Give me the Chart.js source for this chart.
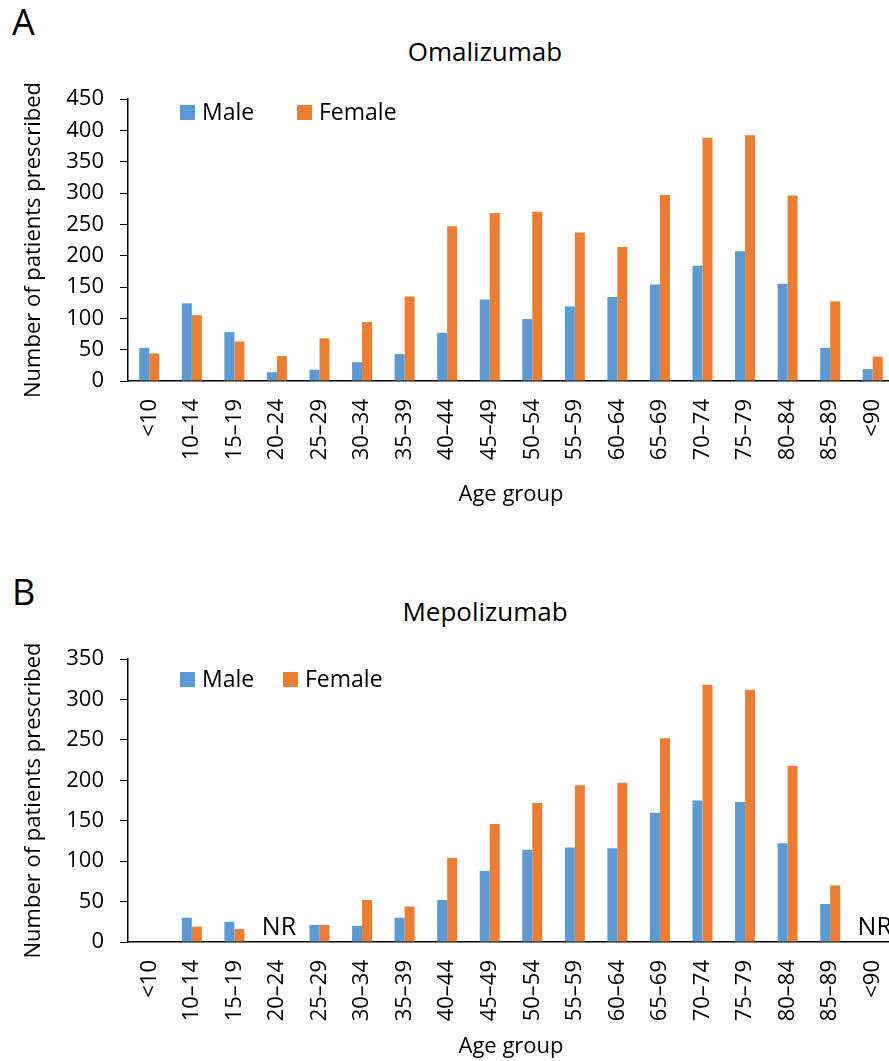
<!DOCTYPE html>
<html>
<head>
<meta charset="utf-8">
<script src="https://cdn.jsdelivr.net/npm/chart.js@4.4.1/dist/chart.umd.min.js"></script>
<style>
  html, body { margin: 0; padding: 0; background: #fff; width: 889px; height: 1061px; overflow: hidden; }
  #wrap { position: relative; width: 889px; height: 1061px; overflow: hidden; font-family: "Open Sans", sans-serif; color: #000; }
  canvas { position: absolute; left: 0; }
  .panel { position: absolute; left: 12px; font-size: 36px; line-height: 1; }
  .title { position: absolute; left: 0; width: 970px; text-align: center; font-size: 26px; line-height: 1; }
</style>
</head>
<body>
<div id="wrap">
  <div class="panel" style="top:4px">A</div>
  <div class="title" style="top:38px">Omalizumab</div>
  <canvas id="chartA" width="896" height="540" style="top:0"></canvas>

  <div class="panel" style="top:574px">B</div>
  <div class="title" style="top:598px">Mepolizumab</div>
  <canvas id="chartB" width="896" height="520" style="top:560px"></canvas>
</div>
<script>
// 데이터
const ageGroups = ['<10', '10–14', '15–19', '20–24', '25–29', '30–34', '35–39', '40–44', '45–49',
                   '50–54', '55–59', '60–64', '65–69', '70–74', '75–79', '80–84', '85–89', '<90'];
const omaMale   = [53, 124, 78, 14, 18, 30, 43, 77, 130, 99, 119, 134, 154, 184, 207, 155, 53, 19];
const omaFemale = [44, 105, 63, 40, 68, 94, 135, 247, 268, 270, 237, 214, 297, 388, 392, 296, 127, 39];
const mepoMale   = [null, 30, 25, null, 21, 20, 30, 52, 88, 114, 117, 116, 160, 175, 173, 122, 47, null];
const mepoFemale = [null, 19, 16, null, 21, 52, 44, 104, 146, 172, 194, 197, 252, 318, 312, 218, 70, null];
const mepoNR = ['20–24', '<90'];   // not reported
const omaYMax = 450;
const mepoYMax = 350;
const yStep = 50;

const BLUE = '#5B9BD5';
const ORANGE = '#ED7D31';
const FONT = '"Open Sans", sans-serif';

// 범례 (플롯 안쪽)
const boxLegend = {
    id: 'boxLegend',
    afterDraw(chart, args, opts) {
        const ctx = chart.ctx;
        ctx.save();
        ctx.font = '23px ' + FONT;
        ctx.fillStyle = '#000';
        ctx.textBaseline = 'alphabetic';
        chart.data.datasets.forEach(function(ds, i) {
            const x = opts.xs[i];
            ctx.fillStyle = ds.backgroundColor;
            ctx.fillRect(x, opts.top, 15, 15);
            ctx.fillStyle = '#000';
            ctx.fillText(ds.label, x + 22, opts.top + 15);
        });
        ctx.restore();
    }
};

// NR 표시
const nrText = {
    id: 'nrText',
    afterDatasetsDraw(chart, args, opts) {
        if (!opts.labels) return;
        const ctx = chart.ctx;
        const xs = chart.scales.x, ys = chart.scales.y;
        ctx.save();
        ctx.font = '25px ' + FONT;
        ctx.fillStyle = '#000';
        ctx.textAlign = 'center';
        ctx.textBaseline = 'alphabetic';
        opts.labels.forEach(function(lab) {
            const i = ageGroups.indexOf(lab);
            ctx.fillText('NR', xs.getPixelForValue(i) + 2, ys.getPixelForValue(0) - 7);
        });
        ctx.restore();
    }
};

function makeChart(id, male, female, yMax, xHeight, xTitlePad, legend, nr) {
    const ctx = document.getElementById(id).getContext('2d');
    return new Chart(ctx, {
        type: 'bar',
        data: {
            labels: ageGroups,
            datasets: [
                { label: 'Male', data: male, backgroundColor: BLUE, borderWidth: 0 },
                { label: 'Female', data: female, backgroundColor: ORANGE, borderWidth: 0 }
            ]
        },
        options: {
            responsive: false,
            animation: false,
            devicePixelRatio: 1,
            categoryPercentage: 0.47,
            barPercentage: 1.0,
            layout: { padding: { top: 99, left: 0, right: 2, bottom: 0 } },
            scales: {
                x: {
                    grid: { display: false, drawTicks: false },
                    border: { display: true, color: '#000', width: 1.5 },
                    ticks: {
                        autoSkip: false,
                        minRotation: 90,
                        maxRotation: 90,
                        padding: 18,
                        color: '#000',
                        font: { family: FONT, size: 22 }
                    },
                    title: {
                        display: true,
                        text: 'Age group',
                        color: '#000',
                        font: { family: FONT, size: 22 },
                        padding: { top: 0, bottom: xTitlePad }
                    },
                    afterFit: function(scale) {
                        scale.height = xHeight;
                        scale.paddingLeft = 0;
                        scale.paddingRight = 0;
                    }
                },
                y: {
                    min: 0,
                    max: yMax,
                    ticks: {
                        stepSize: yStep,
                        padding: 16,
                        color: '#000',
                        font: { family: FONT, size: 22 }
                    },
                    grid: { display: true, drawOnChartArea: false, drawTicks: true, tickLength: 8, color: '#000', lineWidth: 1 },
                    border: { display: true, color: '#000', width: 1.5 },
                    title: {
                        display: true,
                        text: 'Number of patients prescribed',
                        color: '#000',
                        font: { family: FONT, size: 22 },
                        padding: { top: 21, bottom: 0 }
                    },
                    afterFit: function(scale) { scale.width = 128; }
                }
            },
            plugins: {
                legend: { display: false },
                tooltip: { enabled: false },
                boxLegend: legend,
                nrText: { labels: nr }
            }
        },
        plugins: [boxLegend, nrText]
    });
}

makeChart('chartA', omaMale, omaFemale, omaYMax, 159, 32, { xs: [180, 297], top: 105 }, null);
makeChart('chartB', mepoMale, mepoFemale, mepoYMax, 138, 20, { xs: [180, 283], top: 112 }, mepoNR);
</script>
</body>
</html>
